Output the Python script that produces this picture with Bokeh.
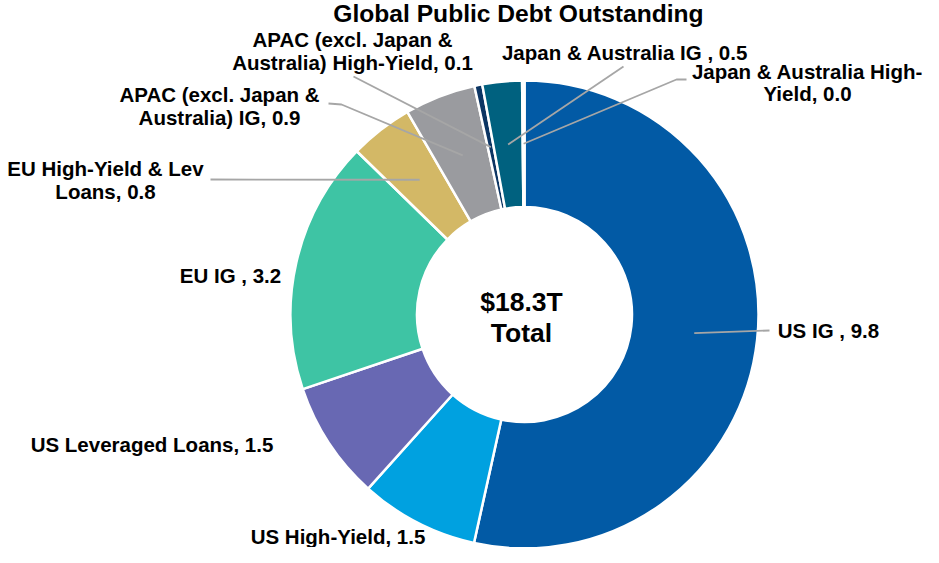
import math
from bokeh.plotting import figure
from bokeh.models import Range1d, ColumnDataSource
from bokeh.embed import file_html
from bokeh.resources import INLINE
from bokeh.core.properties import value

# ---------------- data ----------------
categories = ["US IG", "US High-Yield", "US Leveraged Loans", "EU IG",
              "EU High-Yield & Lev Loans", "APAC (excl. Japan & Australia) IG",
              "APAC (excl. Japan & Australia) High-Yield", "Japan & Australia IG",
              "Japan & Australia High-Yield"]
values = [9.8, 1.5, 1.5, 3.2, 0.8, 0.9, 0.1, 0.5, 0.03]
label_names = ["US IG ", "US High-Yield", "US Leveraged Loans", "EU IG ",
               "EU High-Yield & Lev\nLoans", "APAC (excl. Japan &\nAustralia) IG",
               "APAC (excl. Japan &\nAustralia) High-Yield", "Japan & Australia IG ",
               "Japan & Australia High-\nYield"]
colors = ["#025aa5", "#00a1e0", "#6868b3", "#3ec4a4", "#d3b866",
          "#9a9b9f", "#0c3563", "#00617f", "#ffffff"]
title_text = "Global Public Debt Outstanding"
center_lines = ["$18.3T", "Total"]

# ---------------- layout (reference pixel coords) ----------------
W, H = 923, 547
DX, DY = 7, 13          # view offset so the whole chart fits the frame
CX, CY = 531, 327
R_OUT, R_IN = 234, 107.5
label_pos = [(835, 343), (344.5, 549), (158.5, 457), (237, 288), (112, 181),
             (226, 107), (359, 52), (631.5, 65), (814, 83.5)]
line_gap = 22.5
leader_outer = [[(776, 343)], None, None, None, [(217, 192)],
                [(348, 117), (335, 116)], [(360, 89)], [(630, 79)],
                [(683, 92), (693, 92)]]

p = figure(width=W, height=H, output_backend="svg", toolbar_location=None,
           x_range=Range1d(DX, DX + W), y_range=Range1d(-(DY + H), -DY),
           min_border=0, outline_line_color=None)
p.axis.visible = False
p.grid.visible = False
p.background_fill_color = "white"

total = sum(values)
starts, ends, mids = [], [], []
cum = 0.0
for v in values:
    a0 = math.pi / 2 - cum / total * 2 * math.pi
    a1 = math.pi / 2 - (cum + v) / total * 2 * math.pi
    starts.append(a0)
    ends.append(a1)
    mids.append((a0 + a1) / 2)
    cum += v

src = ColumnDataSource(dict(start=starts, end=ends, color=colors, cat=categories))
p.annular_wedge(x=CX, y=-CY, inner_radius=R_IN, outer_radius=R_OUT,
                start_angle="start", end_angle="end", direction="clock",
                fill_color="color", line_color="white", line_width=2.5, source=src)

# leader lines
xs, ys = [], []
rm = (R_IN + R_OUT) / 2
for i, pts in enumerate(leader_outer):
    if pts is None:
        continue
    px = CX + rm * math.cos(mids[i])
    py = -CY + rm * math.sin(mids[i])
    xs.append([px] + [q[0] for q in pts])
    ys.append([py] + [-q[1] for q in pts])
p.multi_line(xs=xs, ys=ys, line_color="#a6a6a6", line_width=1.8)

# labels
tx, ty, tt = [], [], []
for i, (name, v) in enumerate(zip(label_names, values)):
    lines = f"{name}, {v:.1f}".split("\n")
    x0, y0 = label_pos[i]
    for k, ln in enumerate(lines):
        tx.append(x0)
        ty.append(-(y0 + k * line_gap))
        tt.append(ln)
p.text(x=tx, y=ty, text=tt, text_font=value("Liberation Sans"),
       text_font_style="bold", text_font_size="20.5px", text_align="center",
       text_baseline="middle", text_color="#000000")

# title
p.text(x=[525], y=[-26], text=[title_text], text_font=value("Liberation Sans"),
       text_font_style="bold", text_font_size="24.6px", text_align="center",
       text_baseline="middle", text_color="#000000")

# center text
p.text(x=[528, 528], y=[-314, -345], text=center_lines,
       text_font=value("Liberation Sans"), text_font_style="bold",
       text_font_size="26.5px", text_align="center", text_baseline="middle",
       text_color="#000000")

open("out.html", "w").write(file_html(p, INLINE))
